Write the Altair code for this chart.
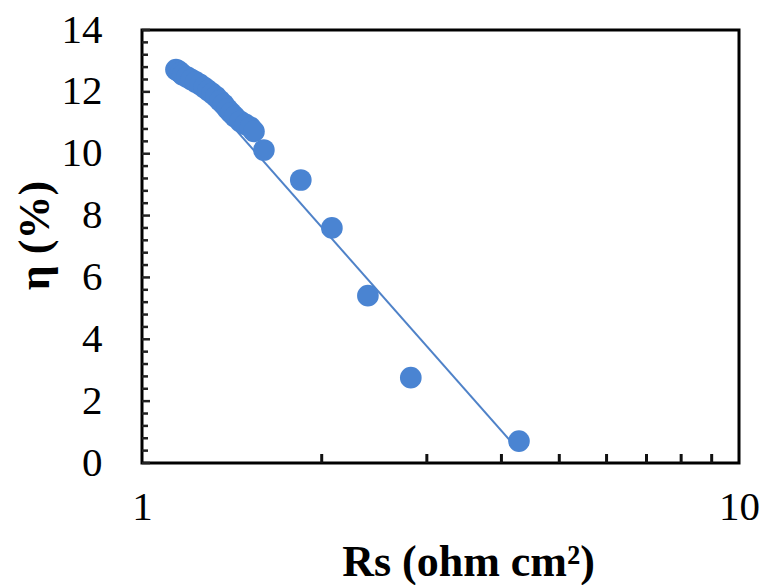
import altair as alt
import pandas as pd

# Data
rs = [1.14, 1.15, 1.16, 1.17, 1.19, 1.21, 1.23, 1.25, 1.27, 1.29, 1.31, 1.33,
      1.35, 1.37, 1.39, 1.41, 1.43, 1.46, 1.49, 1.52, 1.54, 1.60,
      1.845, 2.08, 2.39, 2.82, 4.28]
eta = [12.72, 12.68, 12.62, 12.55, 12.48, 12.40, 12.32, 12.24, 12.15, 12.05, 11.95, 11.85,
       11.72, 11.60, 11.45, 11.32, 11.20, 11.05, 10.95, 10.85, 10.72, 10.12,
       9.15, 7.60, 5.41, 2.76, 0.71]

# Trend line end points
trend_rs = [1.14, 4.28]
trend_eta = [12.96, 0.40]

# Axis ticks
y_major = [0, 2, 4, 6, 8, 10, 12, 14]
y_minor = [0.4, 0.8, 1.2, 1.6, 2.4, 2.8, 3.2, 3.6, 4.4, 4.8, 5.2, 5.6,
           6.4, 6.8, 7.2, 7.6, 8.4, 8.8, 9.2, 9.6, 10.4, 10.8, 11.2, 11.6,
           12.4, 12.8, 13.2, 13.6]
x_minor = [2, 3, 4, 5, 6, 7, 8, 9]
x_labels = [1, 10]

W, H = 597, 433
FONT = "Liberation Serif"
BLUE = "#4a84d2"

df = pd.DataFrame({"rs": rs, "eta": eta})
trend_df = pd.DataFrame({"rs": trend_rs, "eta": trend_eta})
ymaj_df = pd.DataFrame({"eta": y_major})
ymin_df = pd.DataFrame({"eta": y_minor})
xmin_df = pd.DataFrame({"rs": x_minor})

xscale = alt.Scale(type="log", domain=[1, 10], nice=False)
yscale = alt.Scale(domain=[0, 14], nice=False)

xaxis = alt.Axis(
    values=x_labels, format="d", title="Rs (ohm  cm²)", grid=False, ticks=False,
    tickSize=0, domain=False, labelFont=FONT, labelFontSize=41, labelColor="black",
    labelPadding=24, labelFlush=False, labelOverlap=False,
    titleFont=FONT, titleFontSize=44, titleFontWeight="bold", titleColor="black",
    titleX=326, titleY=112, titleAlign="center", titleBaseline="alphabetic",
)
yaxis = alt.Axis(
    values=y_major, title="η (%)", grid=False, ticks=False, tickSize=0, domain=False,
    labelFont=FONT, labelFontSize=41, labelColor="black", labelPadding=40,
    labelFlush=False, labelOverlap=False,
    titleFont=FONT, titleFontSize=44, titleFontWeight="bold", titleColor="black",
    titleAngle=270, titleX=-107, titleY=205, titleAlign="center", titleBaseline="middle",
)

line = alt.Chart(trend_df).mark_line(color="#4f82c8", strokeWidth=2).encode(
    x=alt.X("rs:Q", scale=xscale, axis=xaxis),
    y=alt.Y("eta:Q", scale=yscale, axis=yaxis),
)

points = alt.Chart(df).mark_circle(size=470, color=BLUE, opacity=1).encode(
    x=alt.X("rs:Q", scale=xscale),
    y=alt.Y("eta:Q", scale=yscale),
)

ymaj_ticks = alt.Chart(ymaj_df).mark_rule(color="#222222", strokeWidth=2.5).encode(
    y=alt.Y("eta:Q", scale=yscale),
    x=alt.value(0), x2=alt.value(8),
)
ymin_ticks = alt.Chart(ymin_df).mark_rule(color="#222222", strokeWidth=2.5).encode(
    y=alt.Y("eta:Q", scale=yscale),
    x=alt.value(0), x2=alt.value(6),
)
xmin_ticks = alt.Chart(xmin_df).mark_rule(color="#111111", strokeWidth=3).encode(
    x=alt.X("rs:Q", scale=xscale),
    y=alt.value(H), y2=alt.value(H - 9),
)

chart = alt.layer(line, points, ymaj_ticks, ymin_ticks, xmin_ticks).properties(
    width=W, height=H,
    autosize=alt.AutoSizeParams(type="none"),
    padding={"left": 142, "top": 30, "right": 23, "bottom": 122},
    background="white",
).configure_view(stroke="black", strokeWidth=3)

chart.save("out.html", embed_options={"renderer": "svg", "actions": False})
